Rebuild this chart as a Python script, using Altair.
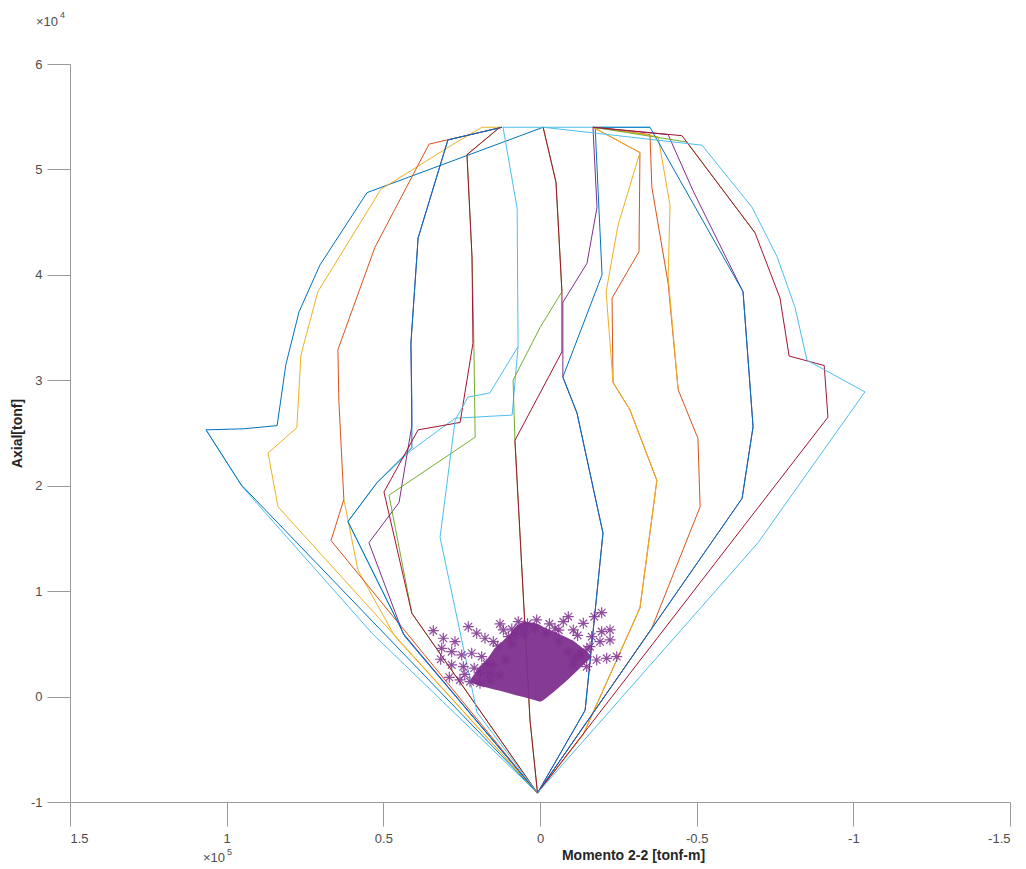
import altair as alt
import pandas as pd

BLUE = "#0072BD"; ORANGE = "#D95319"; YELLOW = "#EDB120"; PURPLE = "#7E2F8E"
GREEN = "#77AC30"; LBLUE = "#4DBEEE"; DRED = "#A2142F"

# ---- interaction curves (M2 in tonf-m, P in tonf) ----
blue_outer_left_M = [800, 95400, 106600, 94500, 83900, 81100, 76900, 70200, 55200, 27100, -1000]
blue_outer_left_P = [-9150, 20100, 25300, 25400, 25700, 31500, 36500, 40950, 47800, 50900, 54000]

lblue_outer_left_M = [800, 53600, 95000, 106600]
lblue_outer_left_P = [-9150, 6000, 19900, 25300]

yellow_outer_left_M = [800, 83600, 86800, 77600, 76300, 70900, 50800, 27100, 18500, 12100]
yellow_outer_left_P = [-9150, 18000, 23100, 25500, 32400, 38400, 48100, 52500, 54000, 54000]

orange_mid_left_M = [800, 66700, 62600, 64200, 64500, 52700, 35400, 12100]
orange_mid_left_P = [-9150, 14800, 18700, 28100, 32900, 42600, 52400, 54000]

yellow_mid_left_M = [800, 46300, 58100, 62600]
yellow_mid_left_P = [-9150, 5700, 12000, 18700]

purple_mid_left_M = [800, 43700, 54600, 45000, 40900, 41200, 38900, 29400, 12100]
purple_mid_left_P = [-9150, 6000, 14600, 18400, 25700, 33500, 43500, 52800, 54000]

blue_mid_left_M = [800, 43100, 61300, 52000, 40900, 40900, 41200, 38900, 29400, 12100]
blue_mid_left_P = [-9150, 5700, 16600, 20300, 23600, 28100, 33500, 43500, 52800, 54000]

green_mid_left_M = [800, 40900, 48200, 20700, 21100, 21700, 23300, 12800]
green_mid_left_P = [-9150, 7900, 19100, 24600, 33500, 41700, 51400, 54000]

dred_mid_left_M = [800, 40900, 49800, 38900, 25500, 21400, 21700, 23300, 12800]
dred_mid_left_P = [-9150, 7900, 19400, 25300, 26000, 33500, 41700, 51400, 54000]

lblue_inner_left_M = [800, 20100, 31900, 27100, 23000, 16000, 7000, 7300, 11800, -35100]
lblue_inner_left_P = [-9150, -1500, 15100, 26200, 28400, 28800, 33200, 46300, 54000, 54000]

lblue_variant_M = [800, 43100, 61300, 52000, 40900, 27100, 8900, 7000]
lblue_variant_P = [-9150, 5700, 16600, 20300, 23400, 26400, 26700, 33200]

green_center_M = [800, 3200, 8000, 8600, 0, -7000, -5100, -1000]
green_center_P = [-9150, -2200, 24300, 30000, 35000, 38400, 48800, 54000]

dred_center_M = [800, 3200, 8000, -7000, -7000, -5100, -1000]
dred_center_P = [-9150, -2200, 24300, 32700, 38400, 48800, 54000]

purple_center_right_M = [800, -14400, -20100, -11800, -7300, -7300, -15000, -18200, -16900]
purple_center_right_P = [-9150, -1300, 15500, 26900, 30300, 37400, 41100, 46400, 54000]

blue_center_right_M = [800, -14400, -20100, -11800, -7300, -19800, -17600]
blue_center_right_P = [-9150, -1300, 15500, 26900, 30300, 40000, 54000]

orange_inner_right_M = [800, -13800, -31900, -37300, -28700, -23300, -23000, -31600, -31900, -16900]
orange_inner_right_P = [-9150, -3600, 8400, 20500, 27200, 29800, 37800, 42200, 51600, 54000]

yellow_inner_right_M = [800, -13800, -31900, -37300, -28700, -23300, -21100, -24900, -31900, -16900]
yellow_inner_right_P = [-9150, -3600, 8400, 20500, 27200, 29800, 38400, 44700, 51600, 54000]

orange_outer_right_M = [800, -35700, -51100, -50400, -44100, -40900, -35700, -35100, -16900]
orange_outer_right_P = [-9150, 6500, 18000, 24500, 29100, 39200, 48300, 53300, 54000]

yellow_outer_right_M = [-44100, -40900, -41500, -37700, -19200]
yellow_outer_right_P = [29100, 39800, 46600, 53100, 54000]

purple_outer_right_M = [800, -64500, -68000, -64800, -48800, -40900, -16900]
purple_outer_right_P = [-9150, 18800, 25600, 38400, 48000, 53300, 54000]

blue_outer_right_M = [800, -64500, -68000, -64800, -35100, -17600]
blue_outer_right_P = [-9150, 18800, 25600, 38400, 54000, 54000]

green_outer_right_M = [-68600, -46900, -16900]
green_outer_right_P = [44000, 52600, 54000]

dred_outer_right_M = [800, -91900, -90700, -79500, -76600, -68600, -45300, -16900]
dred_outer_right_P = [-9150, 26500, 31400, 32300, 37800, 44000, 53200, 54000]

lblue_outer_right_M = [800, -69600, -103700, -85200, -81400, -75700, -67700, -51700, -1000]
lblue_outer_right_P = [-9150, 14600, 28900, 31900, 36900, 41700, 46400, 52300, 54000]

curves = [
    (lblue_outer_left_M, lblue_outer_left_P, LBLUE),
    (blue_outer_left_M, blue_outer_left_P, BLUE),
    (yellow_outer_left_M, yellow_outer_left_P, YELLOW),
    (yellow_mid_left_M, yellow_mid_left_P, YELLOW),
    (orange_mid_left_M, orange_mid_left_P, ORANGE),
    (lblue_variant_M, lblue_variant_P, LBLUE),
    (purple_mid_left_M, purple_mid_left_P, PURPLE),
    (blue_mid_left_M, blue_mid_left_P, BLUE),
    (green_mid_left_M, green_mid_left_P, GREEN),
    (dred_mid_left_M, dred_mid_left_P, DRED),
    (lblue_inner_left_M, lblue_inner_left_P, LBLUE),
    (green_center_M, green_center_P, GREEN),
    (dred_center_M, dred_center_P, DRED),
    (purple_center_right_M, purple_center_right_P, PURPLE),
    (blue_center_right_M, blue_center_right_P, BLUE),
    (orange_inner_right_M, orange_inner_right_P, ORANGE),
    (yellow_inner_right_M, yellow_inner_right_P, YELLOW),
    (orange_outer_right_M, orange_outer_right_P, ORANGE),
    (yellow_outer_right_M, yellow_outer_right_P, YELLOW),
    (purple_outer_right_M, purple_outer_right_P, PURPLE),
    (blue_outer_right_M, blue_outer_right_P, BLUE),
    (green_outer_right_M, green_outer_right_P, GREEN),
    (dred_outer_right_M, dred_outer_right_P, DRED),
    (lblue_outer_right_M, lblue_outer_right_P, LBLUE),
]

# ---- demand points (asterisks) ----
demand_M = [34060, 30860, 27130, 31380, 28190, 25000, 31700, 28190, 24480, 28940, 25540, 22340,
            19150, 22880, 20210, 17560, 14900, 21800, 18620, 12770, 11700, 10110, 6930, 6380,
            1060, 1600, -4790, -7450, -9040, -10640, -13830, -17340, -19680, -16490, -19680,
            -22340, -15960, -19150, -22340, -18090, -21280, -24480, -12770, -10640, -14900,
            16000, 13500, 9000, 4000, -3000, -6000, -12000, -15000, 21000, 17000, 24000, 8000,
            16000, 13000, 11000, 9000, 5000, -2000, -6000, -9000, -11000, 19000, 15000, -13000]
demand_P = [6250, 5530, 5210, 4580, 4260, 3950, 3540, 3000, 2840, 1830, 1580, 1410,
            1260, 6630, 6010, 5530, 5210, 4110, 3790, 6890, 6320, 5680, 7110, 6480,
            7270, 6480, 6480, 7110, 7580, 6320, 6950, 7580, 7960, 5680, 6160,
            6320, 4730, 5210, 5370, 3470, 3630, 3790, 4110, 3000, 2840,
            2200, 4800, 6400, 6900, 6900, 6300, 5800, 4500, 2700, 3100, 2100, 5900,
            1500, 2000, 3500, 5000, 6000, 6000, 5200, 4200, 3600, 2300, 3000, 3900]

# dense core of the demand cloud (upper and lower edges)
core_M = [22000, 19150, 17000, 14900, 12770, 9580, 7980, 5320, 2130, 0, -1060, -4260, -8510, -10640, -12770, -14900, -16500]
core_top = [1700, 2900, 3500, 4400, 5000, 5900, 6600, 7100, 7000, 6800, 6600, 6200, 5600, 5300, 4800, 4300, 3800]
core_bot = [1300, 1000, 850, 700, 550, 300, 150, -50, -300, -500, -350, 400, 1500, 2100, 2700, 3300, 3700]

x_ticks = [-150000, -100000, -50000, 0, 50000, 100000, 150000]
y_ticks = [-10000, 0, 10000, 20000, 30000, 40000, 50000, 60000]

FONT = "Liberation Sans"
xscale = alt.Scale(domain=[-150000, 150000], reverse=True, nice=False, zero=False)
yscale = alt.Scale(domain=[-10000, 60000], nice=False, zero=False)

xaxis = alt.Axis(values=x_ticks, labelExpr="toString(datum.value/100000)", grid=False,
                 tickSize=24, labelPadding=6, labelFontSize=13, labelColor="#4d4d4d",
                 domainColor="#9a9a9a", tickColor="#9a9a9a", labelFont=FONT,
                 title="Momento 2-2 [tonf-m]", titleFont=FONT, titleFontSize=14,
                 titleFontWeight="bold", titleColor="#262626", titleX=563, titleY=53,
                 titleAlign="center", titleBaseline="middle")
yaxis = alt.Axis(values=y_ticks, labelExpr="toString(datum.value/10000)", grid=False,
                 tickSize=23, labelPadding=5, labelFontSize=13, labelColor="#4d4d4d",
                 domainColor="#9a9a9a", tickColor="#9a9a9a", labelFont=FONT,
                 title="Axial[tonf]", titleFont=FONT, titleFontSize=14,
                 titleFontWeight="bold", titleColor="#262626", titleX=-53, titleY=369,
                 titleAlign="center", titleBaseline="middle", titleAngle=270)

X = lambda f: alt.X(f, scale=xscale, axis=xaxis)
Y = lambda f: alt.Y(f, scale=yscale, axis=yaxis)

layers = []
for i, (m, p, col) in enumerate(curves):
    df = pd.DataFrame({"M": m, "P": p, "o": list(range(len(m)))})
    layers.append(alt.Chart(df).mark_line(color=col, strokeWidth=1, clip=True).encode(
        x=X("M:Q"), y=Y("P:Q"), order="o:Q"))

core_df = pd.DataFrame({"M": core_M, "top": core_top, "bot": core_bot})
layers.append(alt.Chart(core_df).mark_area(color=PURPLE, opacity=0.95).encode(
    x=X("M:Q"), y=Y("top:Q"), y2="bot:Q"))

star = "M-1,0L1,0M0,-1L0,1M-0.7,-0.7L0.7,0.7M-0.7,0.7L0.7,-0.7"
dem_df = pd.DataFrame({"M": demand_M, "P": demand_P})
layers.append(alt.Chart(dem_df).mark_point(shape=star, filled=False, color=PURPLE, size=120,
                                           strokeWidth=1.2, opacity=0.85).encode(
    x=X("M:Q"), y=Y("P:Q")))

def label(text, x, y, size):
    return alt.Chart(pd.DataFrame({"t": [text]})).mark_text(
        align="left", baseline="alphabetic", font=FONT, fontSize=size, color="#4d4d4d").encode(
        text="t:N", x=alt.value(x), y=alt.value(y))

layers += [label("×10", -34, -38, 13), label("4", -10, -46, 9),
           label("×10", 133, 798, 13), label("5", 157, 791, 9)]

chart = alt.layer(*layers).properties(
    width=940, height=738,
    padding={"left": 62, "top": 56, "right": 8, "bottom": 66},
    autosize=alt.AutoSizeParams(type="none"),
).configure_view(stroke=None)

chart.save("out.html", embed_options={"renderer": "svg", "actions": False})
